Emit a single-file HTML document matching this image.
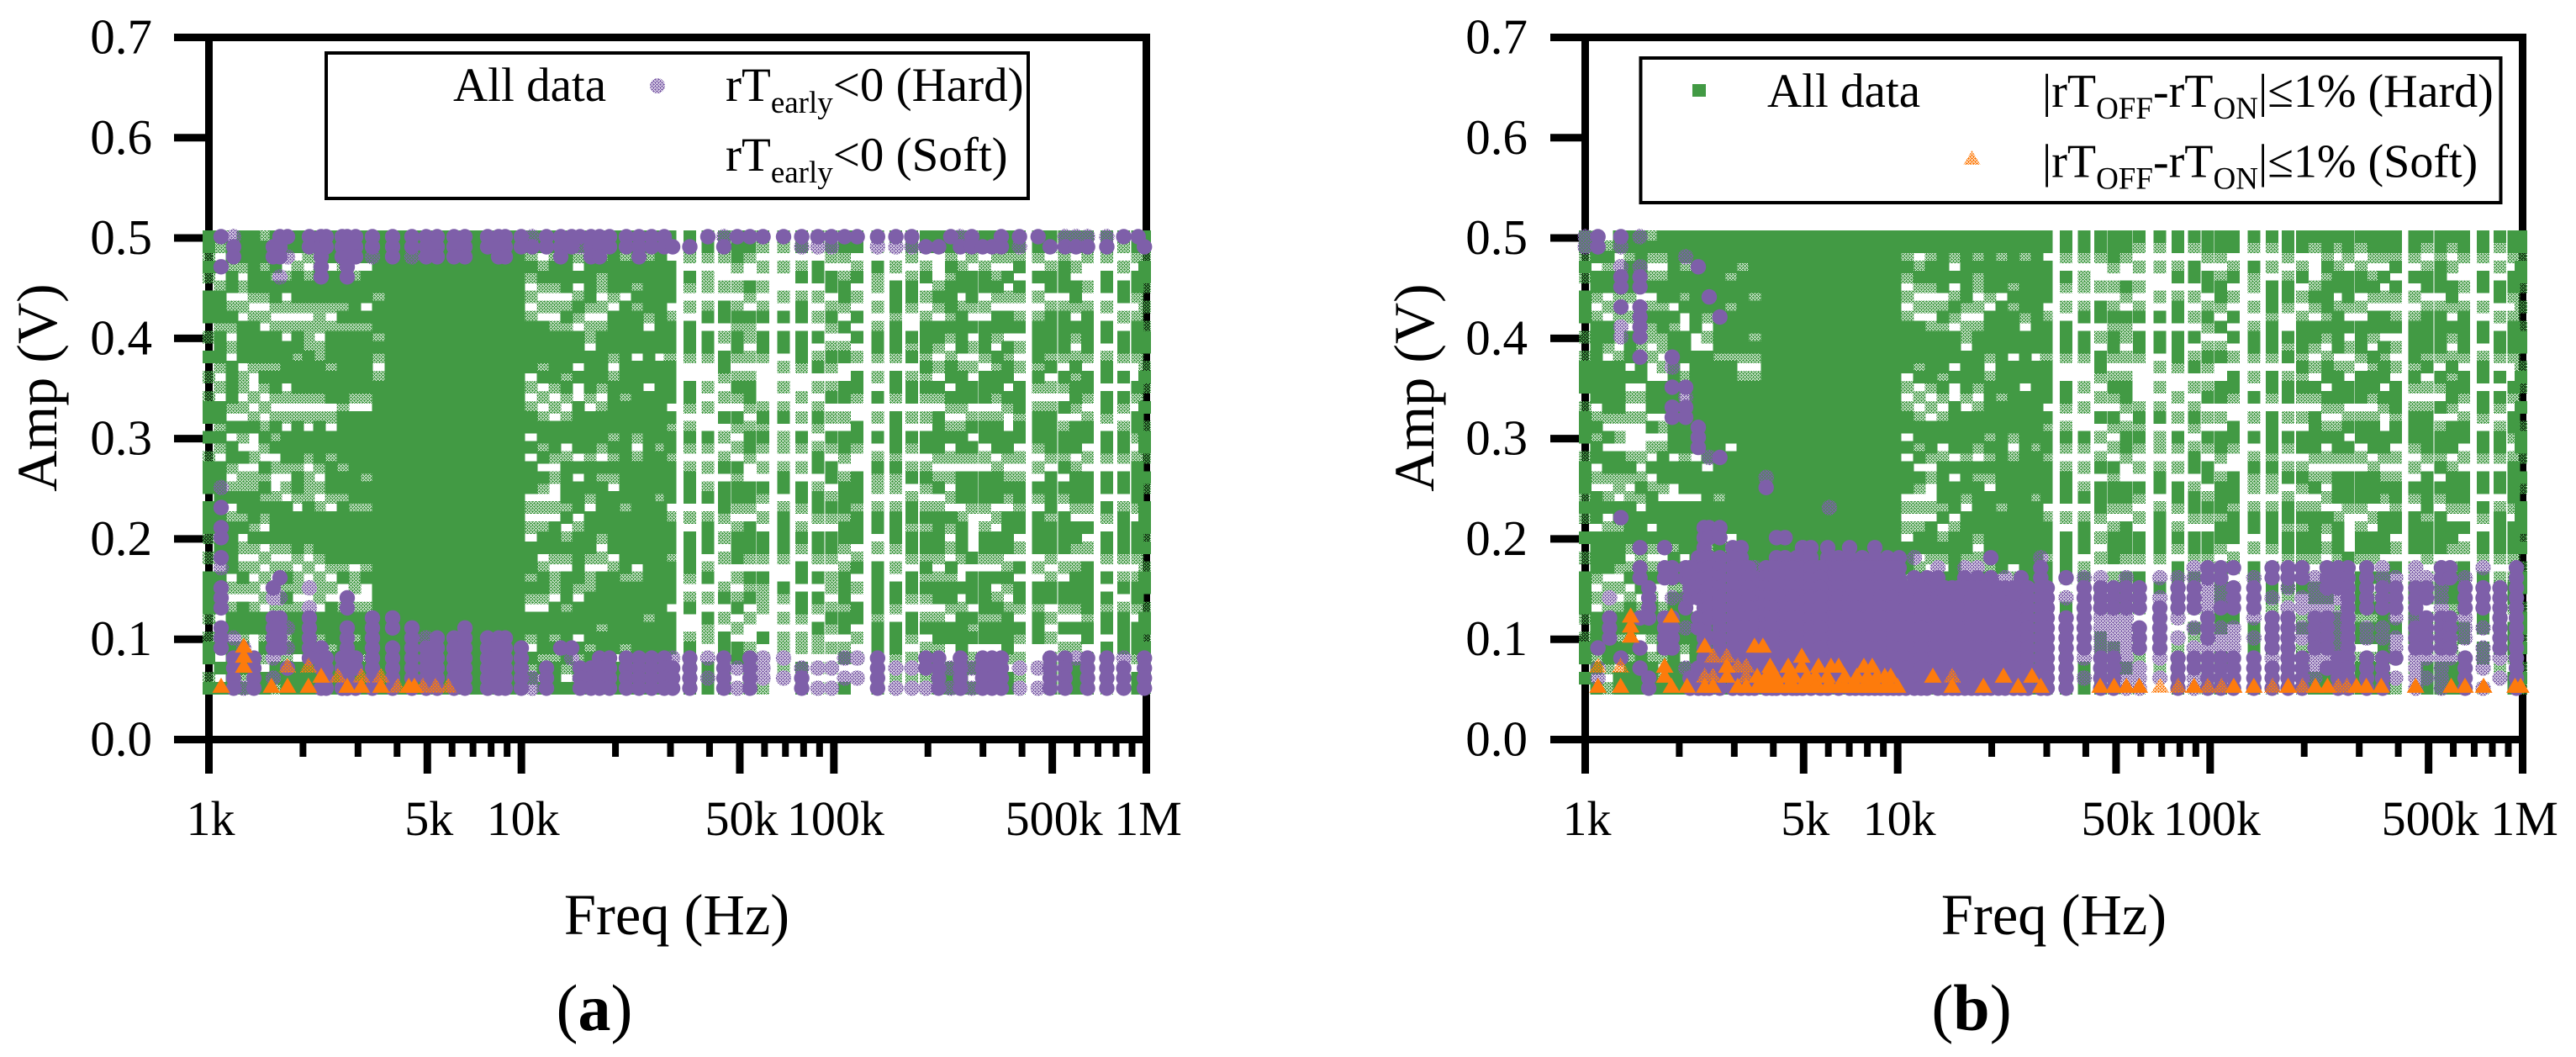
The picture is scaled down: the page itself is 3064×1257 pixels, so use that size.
<!DOCTYPE html>
<html lang="en">
<head>
<meta charset="utf-8">
<title>Freq vs Amp scatter panels</title>
<style>
html,body{margin:0;padding:0;background:#fff;}
svg{display:block;}
text{font-family:"Liberation Serif",serif;fill:#000;}
</style>
</head>
<body>
<svg id="chart" xmlns="http://www.w3.org/2000/svg" width="3064" height="1257" viewBox="0 0 3064 1257">
<defs>
<pattern id="dither-green" width="4" height="4" patternUnits="userSpaceOnUse" shape-rendering="crispEdges"><path fill="#429a44" d="M0 0h3v1h-3zM1 1h1v1h-1zM3 1h1v1h-1zM0 2h1v1h-1zM2 2h2v1h-2zM1 3h1v1h-1zM3 3h1v1h-1z"/></pattern>
<pattern id="dither-purple" width="4" height="4" patternUnits="userSpaceOnUse" shape-rendering="crispEdges"><path fill="#7e5fa9" d="M0 0h3v1h-3zM1 1h1v1h-1zM3 1h1v1h-1zM0 2h1v1h-1zM2 2h2v1h-2zM1 3h1v1h-1zM3 3h1v1h-1z"/></pattern>
<pattern id="dither-orange" width="4" height="4" patternUnits="userSpaceOnUse" shape-rendering="crispEdges"><path fill="#fd7b0c" d="M0 0h3v1h-3zM1 1h1v1h-1zM3 1h1v1h-1zM0 2h1v1h-1zM2 2h2v1h-2zM1 3h1v1h-1zM3 3h1v1h-1z"/></pattern>
</defs>
<g id="panel-a"></g>
<g id="panel-b"></g>

<g>
<rect x="388" y="63" width="835" height="173" fill="none" stroke="#000" stroke-width="4"/>
<text x="539" y="120" font-size="57">All data</text>
<circle cx="782" cy="102" r="9" fill="url(#dither-purple)"/>
<text x="863" y="120" font-size="57">rT<tspan font-size="37" dy="14">early</tspan><tspan dy="-14">&lt;0 (Hard)</tspan></text>
<text x="863" y="203" font-size="57">rT<tspan font-size="37" dy="14">early</tspan><tspan dy="-14">&lt;0 (Soft)</tspan></text>
</g>

<g>
<rect x="1951.5" y="69" width="1023" height="172" fill="none" stroke="#000" stroke-width="4"/>
<rect x="2013" y="100" width="16" height="15" fill="#429a44"/>
<text x="2102" y="127" font-size="57">All data</text>
<text x="2429" y="127" font-size="56">|rT<tspan font-size="37" dy="14">OFF</tspan><tspan dy="-14">-rT</tspan><tspan font-size="37" dy="14">ON</tspan><tspan dy="-14">|≤1% (Hard)</tspan></text>
<polygon points="2345.5,179 2355.5,196 2335.5,196" fill="url(#dither-orange)"/>
<text x="2429" y="210.5" font-size="56">|rT<tspan font-size="37" dy="14">OFF</tspan><tspan dy="-14">-rT</tspan><tspan font-size="37" dy="14">ON</tspan><tspan dy="-14">|≤1% (Soft)</tspan></text>
</g>

<text x="707" y="1225" font-size="78" text-anchor="middle">(<tspan font-weight="bold">a</tspan>)</text>
<text x="2345" y="1225" font-size="78" text-anchor="middle">(<tspan font-weight="bold">b</tspan>)</text>
</svg>

<script>
// ---------- axis values ----------
const xMajorTicks = [1000, 5000, 10000, 50000, 100000, 500000, 1000000];
const xMajorLabels = ["1k", "5k", "10k", "50k", "100k", "500k", "1M"];
const xMinorTicks = [2000, 3000, 4000, 6000, 7000, 8000, 9000, 20000, 30000, 40000, 60000, 70000, 80000, 90000, 200000, 300000, 400000, 600000, 700000, 800000, 900000];
const yTicks = [0, 0.1, 0.2, 0.3, 0.4, 0.5, 0.6, 0.7];
const yTickLabels = ["0.0", "0.1", "0.2", "0.3", "0.4", "0.5", "0.6", "0.7"];

// ---------- "All data" (grid: top char = 0.50 V ... last = 0.05 V; # both sweeps, + one sweep, . none) ----------
const greenFreqsLow = [1000, 1087, 1186, 1285, 1393, 1510, 1636, 1774, 1922, 2083, 2258, 2462, 2687, 2930, 3193, 3483];
const greenRowsLowA = [
"##+#+ .###. +.#.+ .+##. #.+## #.### +.+.# ###+. +##.+ #",
"#+.#. +###+ ###+. +.##+ #+.## ##### +#++# ###.# #..#. #",
"+##+# #.+#+ .+.## ##+.# .##+. +#.+# ####. +.+## +#### #",
"###+. +.+.# ###.+ +.+.# +.#.+ +##+# .+.+# +.### +###+ #",
"##### #+.+# ###+. .+.+# ..+.+ +###+ #+.+. +.+## ..+## #",
"+##+# #+.+. ###+# +.+.+ #+.#+ #+#+. #.+.+ .+.## +#+.# #",
"##+#+ ##+.+ ###+# #+.+# +#.+. .+### #+.+. +.+## ##+## +",
"##+.+ #.+.+ .#### .+.+. ###+. +.### #+.+# +#+## +#+## #",
"##.+# ##+.+ ##+## #+.+# ###+# #+.## ##+.+ +.+## ##.## #",
"##+.+ ##+.+ ++### #+.+. ##+.+ ++### #+.+. +.+## #+### #",
"##.+# ##+++ .++## #+.+# ###+. +.+## ##+.+ ++.## +#### #",
"###.# ##+.+ ###+# ##.+. ##+## #+.## ###+. +.### #+### #",
"###+# ##+#+ ##### ##+## ###+# #+### ###+# ..+## ##+## #",
"###.+ ####+ ##### #+.## ##### ##+## ###.+ +.+## +#+## #",
"###.# ##.#+ ##### #+.## ####+ ##+## ###+# ..+## ##+## #",
"##### #+### +#+.+ ##### ##### ##### ##### ##### ##### #"
];
const greenRowsLowB = [
"##+#+ .###. +.+## #.+## #.+## #+#+. #.+.# ###+. +##.# .",
"+##.# #+.+# ##### ##.+# +##.+ .###. ####+ .+.## ##+#+ #",
".+#+# #.+.# #+.## ###+. #.##+ .+#.+ ####. +.+## ###+. +",
"##.+# #+.+. +.+## ###+. +.##+ +.##+ ###+. +.+## +#+.# #",
"##+## #+.+. ###.# .+.+. ..+#+ .+### #+.+# .+### +#+## #",
"##### +.+++ .+.## .+.+. ..+.+ #+.## ##+.+ #.+## ..### #",
"+#+.+ #.+#+ +.+.. ###.# .+.#. +###. #+.+# .+### +.+## #",
"##+.+ ##+## ++.+. ###.+ .+### +.### #+.+# ..+## ##+.+ #",
"##### ##.#+ ##### ##### ##.## ..### #+### +#### +#### #",
"###+# #+#.. ###.+ #+### ##+## #.### ##.+. +#### #+.## #",
"###+# ##### ..### ##### ##.## #.### ###.+ #+.#+ ###+. #",
"##### ###+. +.### ##### ###.# ##### #+#.+ .#### +#.## #",
"##### ##### ##+## ##### ##### #+### ##+.# +#### ##.## #",
"####+ ##+## ##+## ##### #.### ##### .+### ##### ##### #",
"###+# ##### ##+.+ ##### ##### ##### ##### ##### ##### #",
"##### #+### +#+.+ ##### ##### ##### ##### ##### ##### #"
];
const greenFreqsDense = [3825, 4198, 4605, 5053, 5546, 6085, 6677, 7327, 8041, 8824, 9569, 9806];
const greenFreqsHigh = [10760, 11740, 12800, 13960, 15230, 16610, 18100, 19750, 21540, 23490, 25620, 27930, 29900, 34590, 39530, 44640, 49090, 53880, 59350, 69020, 78900, 88880, 98250, 108200, 118800, 138000, 157900, 177500, 197000, 216500, 237900, 256700, 276400, 304100, 334200, 360200, 392500, 450500, 495000, 546500, 594300, 647100, 747300, 846500, 936900, 988600];
const greenRowsHigh = [
"##+#+ .+.+# ####. +.+## .#.## #.+.+ .###+ #+.## +.#+# +",
"##.+# +.+.# ###+# .+.+# #+#.# +.+.+ ##.+# #+.## ##+#+ #",
"##+## +.+.+ ##### +.+.# ##+.+ ..+.# ##+.+ +.### +#+## #",
"##### #.+#+ ####+ #+.+# #.+## ##+#. +#+.# ##+## ###+. #",
"##+.# .+#+. ###.# ..### ##.#. ###.+ ##### +.### .#+#+ #",
"##### ##+.+ +.### #+.## ##+## #+.## ##+.+ +#### #+### #",
"##+#+ +.+.+ ##### +.+## #+.#+ ##### +.+.# ####+ ###+# #",
"##### #+.## ##+.+ ##### +#+#+ .#### ##.+# ##### ##.## #",
"##+## #.### ##### #+### ##### ##+## ####+ ##### #+### #",
"##### +#+## ##.## ##### +.+## ##### ###.+ ##### ##### #",
"##+## ###+. ##### .#### ##### ##### ##### ###+# ##### #",
"##### ##### ##.## ##### #+### #+### ##### ##### ##### #",
"##.## ##.+# ##+## ##.#+ ##+## ##.+# ##+## ##.## ##+.# #",
"##+.# +.+.# ##+.. ##+.+ #+.+# ##.+. ####+ .+#.. +##.# #",
"##+.+ +.+#. ##+.. +.+.. #+.+. +#.+# ##.+# .+.#+ +.+## #",
"##+.. +.##. +.##+ .+.#. +.+#. ###+. +.+.. +#.+. ##+.# #",
"###+. +.+#+ ##+.+ #+.#+ .+.#+ ##+.+ ###.+ .+#.+ .##+. +",
"##+.. #+.#+ +.+.+ ##+.+ ##+.. ##+.# ##+.# +#.+. .+.#+ +",
"#+.+. +.+#. ##+.. ..+#+ #+.+. #+.+. ##+.# +++.. #.+.. +",
"#+.+. .+.#. ##.+. +.+#. ++.+# #.+## ##+.. #+.+. ++.+. .",
"##.+# .+##. ###+. .+.+. #+.+. ##+.+ #+.## .##+. ++.#. #",
"#+.## .+.+. #.+#. +.+#+ .+##. +##+. ##+.# .#+.# ++.+. +",
"##+.# #.+#+ .+#+. +#.+. #+.## .+#+. ##+.+ +.+#+ .+.+. +",
"##+.+ ##+.# .+#.. ##.+. ##+.+ ###+# #+.+# ##+## .+#.. #",
"##.+ #.+.# .#.+. ##+.. ##+.. ###+# ##.+# .+.## .+.+. .",
"#+.#+ +.+.+ ##+.+ .#.+. #.+#+ +.+## .+.## ###+# ##+.# #",
"#+.+. ###+# ##+.# #+.## ##+#+ +.+## #+.+. ##+.# ##+.+ +",
"##+.+ ##+.. #+#.+ ##.+. #+.+# .+##+ ##+.# #+.## +.+.+ .",
"##.+# .+.+# ##+#+ #+.+. ##.+# +.+#+ ##+#+ #+.+# .+#.+ +",
"#+... +#+.# #+.+. #+.## ##+.+ #.+## ##+.+ ##.+# #+.+# #",
"##+#+ ###+# +.+## .#+.+ #.+.+ .+.#+ .+.#+ ##+.# #..## #",
"#+.+# #.+## ##.+# ##+.+ ##+.# ##.+# ##+.. #.+## ##.+# #",
"##+.# ##+.# .+.+. ##.+# .#+.# ##+.. ..#.# ##.#+ #.+#. #",
"#+.+# #.+.# ##+.# ##.+# #.+.# ##+.+ ##+.# ###+# #.+## #",
"##+.+ #+.## +.#+# #+.+# ##.+# ##.+. ##+.# .+#+# #.+## #",
"##+.# .+.## .#+## .#+.. ##+.+ #+.## ##.+# +.+## ##+.# #",
"##+#. #+.+# .+.+. ###+# #.+.+ ##+## .+.#. ##+.# +.+.+ +",
"##+.# .+.+# ###+# +.+## #+.+. #+.## ##.+. ##+## #..+. .",
"#+.+# #.+## ##+#. +.+## ##+.# ###+# ##+.+ ##.+. +.+## #",
"##+## #.+## ##+.# +.#.+ ##+#. #+.## ##.+. ##+.# .+.## #",
"#+.+. ##+.# +.+#+ ##+.# ##.+# ##+.# #+.+# ##+.# .+.## #",
"##+.. +.+## ##+.# #+.+# #.+.# ##+.# .+.## ###+# #.+## #",
"##+.# #.+.# #.+## .##+. ##+.# #.#+. ##+.# .#+## .##+. +",
"#+.+. ##.+. ##+.# .#+.+ ##+.# #.+## ##+.+ #.+## ##.+. .",
"##+.# #+.+# ##+.. #+.## +.+## ##+.# ##+.+ ##+.# ##+.# #",
"##+## +.+.+ ##.+# +.#.+ ##+.# +.### +#.+# #.+## +#.+# +"
];

// ---------- panel (a) rT_early<0 : tokens are amplitude in hundredths of a volt; "~" = single point, "a-b" = every step ----------
const purpleFreqsA = [1094, 1200, 1293, 1393, 1606, 1688, 1785, 2097, 2287, 2373, 2669, 2771, 2948, 3337, 3871, 4465, 4961, 5377, 6084, 6597, 7798, 8453, 8880, 9989, 10830, 12030, 13370, 14490, 15410, 16710, 17780, 19140, 21670, 23790, 26110, 28650, 30480, 34590, 39530, 44460, 49090, 53880, 59350, 69020, 78900, 88880, 98250, 108200, 118800, 138000, 157900, 177500, 197000, 216500, 236700, 254000, 276400, 299300, 320900, 343500, 392500, 450500, 492000, 549500, 595700, 648600, 747300, 846500, 941900, 985600];
const purpleAmpsA = ["50 47 ~25 23 21 20 18 ~17 15 14 13 11 10 09", "~50 49 48 ~10 08-05", "~09 ~05", "08-05", "49 48 15 ~14 12-09 ~08 ~06", "50 49 48 ~46 16 ~14 12-09", "50 ~48 ~11 ~09 07", "50 49 ~15 ~13 12-09 08", "50-46 09 08 07 05", "50 49 08-05", "50 49 48 08 07 05", "50-46 14 13 11-05", "50 49 48 08 07 05", "50 49 ~48 12-05", "50 49 48 12 11 09-05", "50 49 ~48 11 10 09-05", "50 49 48 ~10 09-05", "50 49 48 10-05", "50 49 48 10-05", "50 49 48 11-05", "50 49 10-05", "50 49 48 10-05", "50 49 48 10-05", "50 49 09-05", "~50 49 ~06 ~05", "50 49 07 06 05", "50 49 48 09", "50 49 09 ~08", "50 ~49 07 06 05", "50 49 48 07 06 05", "50 49 48 08-05", "50 49 08-05", "50 49 08-05", "50 49 48 08-05", "50 49 08-05", "50 49 08-05", "49 ~08 07 06 05", "49 08-05", "50 ~08 ~06", "~50 49 08-05", "50 ~07 ~05", "50 08-05", "50 ~08 ~07 ~06", "50 ~08 ~06", "50 ~49 ~07 06 05", "50 ~49 ~07 ~05", "50 ~49 ~07 ~05", "50 ~08 ~06", "50 ~08 ~06", "50 ~49 08-05", "50 ~49 ~07 ~05", "50 ~49 ~07 ~05", "49 08 07 ~05", "49 08-05", "50 ~07 ~05", "~50 49 08-05", "50 49 ~07 ~05", "49 08-05", "49 08-05", "50 49 08-05", "50 ~49 ~07 ~05", "50 ~07 ~05", "49 08-05", "~50 49 08-05", "~50 49 ~08", "~50 49 08-05", "~50 49 08-05", "50 ~08 07 06 05", "50", "49 08-05"];
const orangeFreqsA = [1094, 1293, 1586, 1785, 2083, 2287, 2589, 2771, 3077, 3553, 4020, 4360, 4544, 4840, 5313, 5826];
const orangeAmpsA = ["05", "09 08 07", "05", "05 ~07", "05 ~07", "06", "~06", "05", "05 ~06", "05 ~06", "~05", "05", "05", "~05", "~05", "~05"];

// ---------- panel (b) |rT_OFF-rT_ON|<=1% ----------
const purpleFreqsB = [1000, 1099, 1197, 1301, 1498, 1597, 1796, 1899, 2097, 2165, 2301, 2403, 2494, 2698, 2966, 3156, 3483, 3793, 4094, 4360, 4750, 4961, 5276, 5972, 6048, 6476, 7019, 7703, 8453, 9275, 10110, 11310, 12410, 13450, 14950, 16400, 17990, 19870, 22070, 24830, 28700, 34590, 39530, 44640, 49090, 53880, 59350, 69020, 78900, 88880, 98250, 108200, 118800, 138000, 157900, 177500, 197000, 216500, 236700, 256700, 276400, 317000, 356500, 392500, 455000, 492000, 549500, 586000, 654600, 747300, 846500, 955000, 3337, 3966, 4605, 5656, 7327, 8072, 8824, 9690, 10630, 11880, 14130, 15600, 17230, 18910, 21010, 23490, 26100, 30100];
const purpleAmpsB = ["~49", "49 09 ~07 ~06", "~14 12 11 10", "50 ~49 ~47 46 45 43 ~41 ~40 22 08", "~47 46 45 43 42 41 40 38 19 17 16 12 09 07", "15 14 13 12 06 05", "19 17 16 12-09", "38 ~37 35 33 32 17 16 ~14 12-09", "~48 35 ~34 33 32 17 16 ~14 13 ~11 ~07", "17 16 15 14 06 05", "47 31 30 29 18-14 12 11 07 06 05", "21 20 19 18 17 16 14 13 12 11 10 09 08 06 05", "44 ~28 21 20 18-12 10 08-05", "42 28 21 20 18-05", "19 18-05", "19 18-05", "~17 16-05", "~26 25 17-05", "20 18-05", "20 18-05", "18-05", "19 18-05", "19 18-05", "19 18-05", "~23", "18-05", "19 18-05", "18-05", "19 18-05", "18-05", "18-05", "~18 16-05", "16-05", "~17 16-05", "15-05", "~17 16-05", "~17 16-05", "18 16-05", "~16 15-05", "16-05", "~18 17 16-05", "16 ~14 12-05", "~16 15-09 ~08 ~06", "~16 15-13 ~12 ~11 ~10 ~09 08-05", "15-13 ~12 ~11 ~10 ~09 08-05", "~16 15-13 ~12 ~11 ~10 ~09 ~08 ~07 ~06 ~05", "15-13 11-09 ~07 ~06 ~05", "~16 ~14 13-09 ~08 ~06", "~16 15-13 ~12 ~10 08-05", "~17 ~16 15-13 ~11 ~09 08 07 ~06 ~05", "17 16 ~15 ~14 ~13 12-10 ~09 08-05", "17 16 ~15 ~14 13 ~11 ~10 ~09 08-05", "17 15-13 ~11 ~10 ~09 08-05", "~16 15-13 ~12 ~10 08-05", "17 16 ~14 12-09 ~08 07 06 05", "17 16 ~15 ~13 12-08 07-05", "17 16 ~14 ~13 ~11 ~10 08-05", "~16 ~15 ~14 ~13 12-09 ~08 ~07 ~06", "17 16 15 ~14 ~13 12-09 ~08 07", "17 16 15 ~14 ~12 ~11 ~10 ~09 08-05", "17 16 15 14 13 12-08 07-05", "17 16 15 14 13 ~11 ~10 08-05", "~17 ~16 15-13 ~11 ~10 08-05", "~16 15-13 ~12 ~10 ~09 08 ~06", "~17 ~16 15-13 ~12 11-09 ~08 ~07 ~06 ~05", "~16 15 14 12-09 ~08 ~06", "17 16 ~15 ~14 ~13 12-09 ~08 ~07 ~06 ~05", "17 16 12-09 ~08", "~16 15-13 ~12 ~11 ~10 08-05", "~17 15-13 ~11 ~09 ~08 ~07 ~05", "15-13 12-09 ~08 ~06", "17-13 12-08 07-05", "17-05", "17-05", "17-05", "17-05", "17-05", "17-05", "17-05", "17-05", "15-05", "15-05", "15-05", "15-05", "15-05", "15-05", "15-05", "15-05", "15-05", "15-05"];
const purpleTopFreqsB = [1000, 1099, 1301, 1498];
const orangeFreqsB = [1099, 1298, 1398, 1796, 1887, 2118, 2413, 2565, 2840, 3077, 3275, 3483, 3553, 3704, 3907, 4198, 4465, 4933, 5313, 5581, 6120, 6476, 7120, 7798, 8290, 9090, 9989, 12960, 14950, 18800, 21800, 24300, 26900, 28700, 44460, 49280, 53950, 59350, 69200, 79000, 88900, 98400, 108800, 119000, 138000, 158300, 177700, 197500, 217200, 237400, 256700, 274000, 294000, 316000, 353000, 454500, 591000, 654000, 750000, 946000, 985600, 3800, 4070, 4650, 5130, 5450, 5950, 6770, 7400, 8000, 8600, 9500];
const orangeAmpsB = ["05 ~07", "05 ~07", "12 11 10", "07 06", "12 05", "05", "09 05 ~06", "~08 ~06 05", "~08 07 06", "~07 05", "~07 ~06 05", "09", "06 05", "09 05", "07 06 05", "05", "07 06 05", "08 07 05", "05", "07 05", "07 05", "07 05", "05", "07 05", "07 05", "06 05", "05", "06", "~06 05", "05", "06", "05", "06", "05", "05", "05", "05", "05", "~05", "~05", "05", "~05", "~05", "05", "05", "~05", "05", "~05", "05", "05", "~05", "~05", "05", "05", "05", "05", "05", "05", "05", "05", "05", "06 05", "06 05", "06 05", "06 05", "06 05", "06 05", "06 05", "06 05", "06 05", "06 05", "06 05"];

// ---------- layout ----------
const decadePx = 371.67;
const topY = 44.5;
const baseY = 879.5;
const voltPx = 1192.9;
const markShift = -1.5;

function xScale(freq, x0) { return x0 + decadePx * Math.log10(freq / 1000); }
function yScale(volt) { return baseY - voltPx * volt; }

function parseAmps(text) {
  const out = [];
  text.trim().split(/\s+/).forEach(function (tok) {
    const single = tok[0] === '~';
    const t = single ? tok.slice(1) : tok;
    const parts = t.split('-').map(Number);
    const hi = parts[0];
    const lo = parts.length > 1 ? parts[1] : parts[0];
    for (let a = hi; a >= lo; a--) out.push({ volt: a / 100, single: single });
  });
  return out;
}

const NS = 'http://www.w3.org/2000/svg';
function makeLine(parent, x1, y1, x2, y2, w) {
  const el = document.createElementNS(NS, 'line');
  el.setAttribute('x1', x1);
  el.setAttribute('y1', y1);
  el.setAttribute('x2', x2);
  el.setAttribute('y2', y2);
  el.setAttribute('stroke', '#000');
  el.setAttribute('stroke-width', w);
  
  parent.appendChild(el);
  return el;
}
function makeText(parent, x, y, str, size, anchor) {
  const el = document.createElementNS(NS, 'text');
  el.setAttribute('x', x);
  el.setAttribute('y', y);
  el.setAttribute('font-size', size);
  el.setAttribute('text-anchor', anchor);
  
  el.textContent = str;
  parent.appendChild(el);
  return el;
}
function squareMark(parent, freq, volt, single, x0) {
  const el = document.createElementNS(NS, 'rect');
  const cx = xScale(freq, x0);
  const cy = yScale(volt) + markShift;
  el.setAttribute('x', (cx - 7.5).toFixed(1));
  el.setAttribute('y', (cy - 7.5).toFixed(1));
  el.setAttribute('width', 15);
  el.setAttribute('height', 15);
  el.setAttribute('fill', single ? 'url(#dither-green)' : '#429a44');
  
  
  parent.appendChild(el);
}
function circleMark(parent, freq, volt, single, x0) {
  const el = document.createElementNS(NS, 'circle');
  el.setAttribute('cx', xScale(freq, x0).toFixed(1));
  el.setAttribute('cy', (yScale(volt) + markShift).toFixed(1));
  el.setAttribute('r', 9.2);
  el.setAttribute('fill', single ? 'url(#dither-purple)' : '#7e5fa9');
  
  
  parent.appendChild(el);
}
function triangleMark(parent, freq, volt, single, x0) {
  const el = document.createElementNS(NS, 'polygon');
  const cx = xScale(freq, x0);
  const cy = yScale(volt) + markShift + 1.5;
  el.setAttribute('points', cx.toFixed(1) + ',' + (cy - 14).toFixed(1) + ' ' + (cx + 10.5).toFixed(1) + ',' + (cy + 4).toFixed(1) + ' ' + (cx - 10.5).toFixed(1) + ',' + (cy + 4).toFixed(1));
  el.setAttribute('fill', single ? 'url(#dither-orange)' : '#fd7b0c');
  
  
  parent.appendChild(el);
}
function drawGrid(parent, freqs, rows, x0) {
  freqs.forEach(function (freq, i) {
    const row = rows[i].replace(/ /g, '');
    for (let k = 0; k < row.length; k++) {
      const ch = row[k];
      if (ch === '.') continue;
      squareMark(parent, freq, (50 - k) / 100, ch === '+', x0);
    }
  });
}
function drawSeries(parent, freqs, amps, x0, mark) {
  freqs.forEach(function (freq, i) {
    parseAmps(amps[i]).forEach(function (p) {
      mark(parent, freq, p.volt, p.single, x0);
    });
  });
}

function drawPanel(id, x0, yLabelEnd, amptitleX, freqTitleX, lowRows, purpleF, purpleA, orangeF, orangeA) {
  const g = document.getElementById(id);
  const right = xScale(1000000, x0);

  const axes = document.createElementNS(NS, 'g');
  
  
  g.appendChild(axes);

  const frameLeft = makeLine(axes, x0, topY - 4.5, x0, baseY + 4.5, 9);
  
  const frameRight = makeLine(axes, right, topY - 4.5, right, baseY + 4.5, 9);
  
  const frameTop = makeLine(axes, x0, topY, right + 4.5, topY, 9);
  
  const frameBottom = makeLine(axes, x0, baseY, right + 4.5, baseY, 9);
  

  yTicks.forEach(function (v, i) {
    const t = makeLine(axes, x0 - 41.5, yScale(v), x0, yScale(v), 9);
    
    const l = makeText(axes, yLabelEnd, yScale(v) + 19, yTickLabels[i], 59, 'end');
    
  });
  xMajorTicks.forEach(function (f, i) {
    const px = xScale(f, x0);
    const t = makeLine(axes, px, baseY, px, 920, 9);
    
    const l = makeText(axes, px + 2, 993, xMajorLabels[i], 58, 'middle');
    
  });
  xMinorTicks.forEach(function (f) {
    const px = xScale(f, x0);
    const t = makeLine(axes, px, baseY, px, 900, 8);
    
  });

  const yt = makeText(axes, 0, 0, 'Amp (V)', 68, 'middle');
  yt.setAttribute('transform', 'translate(' + amptitleX + ',461) rotate(-90)');
  
  const xt = makeText(axes, freqTitleX, 1111, 'Freq (Hz)', 68.5, 'middle');
  

  const greens = document.createElementNS(NS, 'g');
  
  
  greens.setAttribute('shape-rendering', 'crispEdges');
  g.appendChild(greens);
  drawGrid(greens, greenFreqsLow, lowRows, x0);
  greenFreqsDense.forEach(function (freq) {
    parseAmps('50-05').forEach(function (p) {
      squareMark(greens, freq, p.volt, p.single, x0);
    });
  });
  drawGrid(greens, greenFreqsHigh, greenRowsHigh, x0);

  const purples = document.createElementNS(NS, 'g');
  
  
  g.appendChild(purples);
  drawSeries(purples, purpleF, purpleA, x0, circleMark);

  const oranges = document.createElementNS(NS, 'g');
  
  
  g.appendChild(oranges);
  drawSeries(oranges, orangeF, orangeA, x0, triangleMark);
}

const purpleUpperAmpsB = ["~50", "49 50", "~47", "~50"];
drawPanel('panel-a', 248.5, 181, 67, 805, greenRowsLowA, purpleFreqsA, purpleAmpsA, orangeFreqsA, orangeAmpsA);
drawPanel('panel-b', 1885.5, 1817, 1705, 2443, greenRowsLowB, purpleFreqsB, purpleAmpsB, orangeFreqsB, orangeAmpsB);
drawSeries(document.getElementById('panel-b'), purpleTopFreqsB, purpleUpperAmpsB, 1885.5, circleMark);
</script>
</body>
</html>
